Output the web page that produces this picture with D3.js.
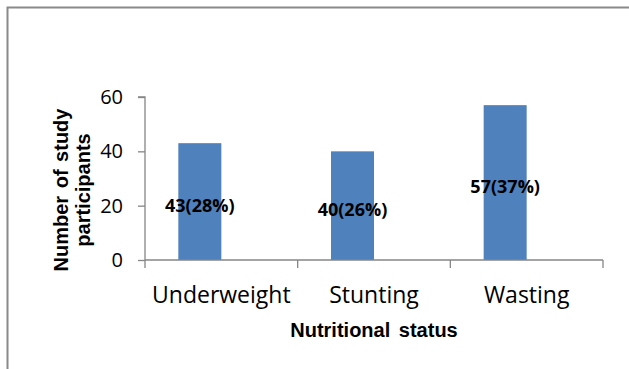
<!DOCTYPE html>
<html>
<head>
<meta charset="utf-8">
<script src="https://cdn.jsdelivr.net/npm/d3@7/dist/d3.min.js"></script>
<style>
  html, body { margin: 0; padding: 0; background: #fff; }
  svg { display: block; }
</style>
</head>
<body>
<svg id="chart" width="629" height="369"></svg>
<script>
// Nutritional status of study participants
const categories = ["Underweight", "Stunting", "Wasting"];
const counts = [43, 40, 57];
const percents = [28, 26, 37];
const seriesSlots = ["participants", "spare"];   // clustered layout: second slot left empty
const yTicks = [0, 20, 40, 60];

const svg = d3.select("#chart");
const W = 629, H = 369;
const margin = { left: 145, right: 26, top: 97, bottom: 109 };
const plotW = W - margin.left - margin.right;
const plotH = H - margin.top - margin.bottom;

// Outer frame (extends past the right/bottom edges)
svg.append("rect")
  .attr("x", 7.5).attr("y", 7.5)
  .attr("width", 700).attr("height", 500)
  .attr("fill", "none")
  .attr("stroke", "#8a8a8a")
  .attr("stroke-width", 2);

const g = svg.append("g").attr("transform", `translate(${margin.left},${margin.top})`);

const x = d3.scaleBand().domain(categories).range([0, plotW]).padding(0);
const xs = d3.scaleBand().domain(seriesSlots).range([0, x.bandwidth()])
  .paddingInner(0).paddingOuter(0.775);
const y = d3.scaleLinear().domain([0, 60]).range([plotH, 0]);

const data = categories.map((c, i) => ({ c, v: counts[i], p: percents[i] }));

// Bars
g.selectAll("rect.bar").data(data).enter().append("rect")
  .attr("class", "bar")
  .attr("x", d => x(d.c) + xs("participants"))
  .attr("y", d => y(d.v))
  .attr("width", xs.bandwidth())
  .attr("height", d => y(0) - y(d.v))
  .attr("fill", "#4F81BD");

// Y axis
const yAxis = g.append("g")
  .call(d3.axisLeft(y).tickValues(yTicks).tickSize(7).tickPadding(15).tickFormat(d3.format("d")));
yAxis.selectAll("path, line").attr("stroke", "#868686").attr("stroke-width", 1.3);
yAxis.select(".domain").attr("d", `M-7,${y(60)}H0V${y(0)}`);
yAxis.selectAll("text")
  .attr("font-family", "'Open Sans', sans-serif")
  .attr("font-size", 20)
  .attr("fill", "#000");

// X axis: tick marks at the category boundaries
const xAxisG = g.append("g").attr("transform", `translate(0,${plotH})`);
xAxisG.append("line")
  .attr("x1", 0).attr("x2", plotW).attr("y1", 0).attr("y2", 0)
  .attr("stroke", "#868686").attr("stroke-width", 1.3);
const bounds = categories.map(c => x(c)).concat([plotW]);
xAxisG.selectAll("line.tk").data(bounds).enter().append("line")
  .attr("class", "tk")
  .attr("x1", d => d).attr("x2", d => d)
  .attr("y1", 0).attr("y2", 8)
  .attr("stroke", "#868686").attr("stroke-width", 1.3);
xAxisG.selectAll("text.cat").data(categories).enter().append("text")
  .attr("class", "cat")
  .attr("x", d => x(d) + x.bandwidth() / 2)
  .attr("y", 43)
  .attr("text-anchor", "middle")
  .attr("font-family", "'Open Sans', sans-serif")
  .attr("font-size", 23)
  .attr("fill", "#000")
  .text(d => d);

// Value labels
g.selectAll("text.val").data(data).enter().append("text")
  .attr("class", "val")
  .attr("x", d => x(d.c) + xs("participants") + xs.bandwidth() / 2)
  .attr("y", d => (y(d.v) + y(0)) / 2 + 3)
  .attr("dominant-baseline", "central")
  .attr("text-anchor", "middle")
  .attr("font-family", "'Open Sans', sans-serif")
  .attr("font-weight", "bold")
  .attr("font-size", 18)
  .attr("fill", "#000")
  .text(d => `${d.v}(${d.p}%)`);

// Axis titles
svg.append("text")
  .attr("x", margin.left + plotW / 2)
  .attr("y", 337)
  .attr("text-anchor", "middle")
  .attr("font-family", "'Liberation Sans', Arial, sans-serif")
  .attr("font-weight", "bold")
  .attr("font-size", 20)
  .attr("word-spacing", 3)
  .attr("fill", "#000")
  .text("Nutritional status");

const yTitle = svg.append("text")
  .attr("transform", "translate(0,190) rotate(-90)")
  .attr("text-anchor", "middle")
  .attr("font-family", "'Liberation Sans', Arial, sans-serif")
  .attr("font-weight", "bold")
  .attr("font-size", 20)
  .attr("word-spacing", 2)
  .attr("fill", "#000");
yTitle.append("tspan").attr("x", 0).attr("y", 68).text("Number of study");
yTitle.append("tspan").attr("x", 0).attr("y", 90).text("participants");
</script>
</body>
</html>
